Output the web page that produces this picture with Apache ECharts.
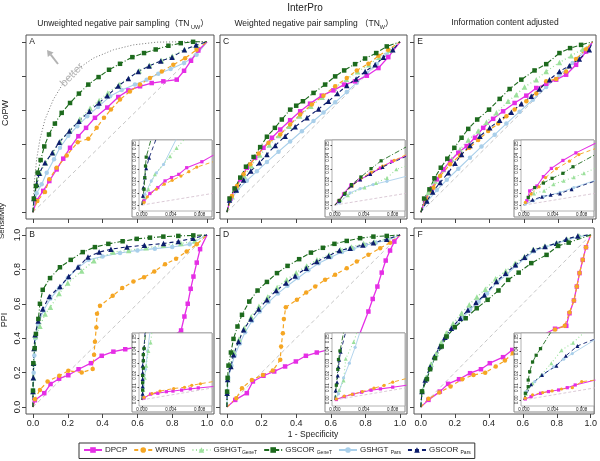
<!DOCTYPE html>
<html><head><meta charset="utf-8">
<script src="https://cdn.jsdelivr.net/npm/echarts@6/dist/echarts.min.js"></script>
<style>html,body{margin:0;padding:0;background:#fff}#c{width:600px;height:461px}</style>
</head><body><div id="c"></div>
<script>
// ---------- tick labels ----------
var MAIN_TICKS = [0, 0.2, 0.4, 0.6, 0.8, 1.0];
var INSET_X_TICKS = [0, 0.004, 0.008];
var INSET_Y_TICKS = [0, 0.01, 0.02, 0.03, 0.04, 0.05];
var DIAG = [[0, 0], [1, 1]];
var A_BETTER = [[0,0],[0.006,0.154],[0.021,0.31],[0.04,0.427],[0.069,0.544],[0.117,0.661],[0.174,0.758],[0.251,0.836],[0.347,0.904],[0.462,0.953],[0.577,0.982],[0.711,0.998],[0.845,1.0],[1,1]];

// ---------- Panel A (CoPW, unweighted) ----------
var A_DPCP = [[0.021,0.07],[0.059,0.125],[0.094,0.183],[0.136,0.251],[0.174,0.314],[0.213,0.378],[0.261,0.446],[0.305,0.495],[0.356,0.554],[0.427,0.614],[0.49,0.676],[0.548,0.715],[0.615,0.739],[0.682,0.758],[0.749,0.768],[0.826,0.778],[0.868,0.83],[0.908,0.889],[0.95,0.949]];
var A_WRUNS = [[0.025,0.066],[0.069,0.119],[0.094,0.193],[0.136,0.261],[0.194,0.333],[0.257,0.411],[0.318,0.431],[0.366,0.495],[0.408,0.554],[0.448,0.602],[0.5,0.661],[0.557,0.709],[0.615,0.749],[0.672,0.788],[0.74,0.826],[0.806,0.865],[0.874,0.904],[0.94,0.953]];
var A_GSHGT_GeneT = [[0.008,0.08],[0.025,0.16],[0.04,0.23],[0.072,0.29],[0.115,0.35],[0.155,0.415],[0.212,0.48],[0.268,0.545],[0.328,0.61],[0.38,0.655],[0.43,0.7],[0.495,0.75],[0.61,0.83],[0.67,0.862],[0.738,0.89],[0.8,0.915],[0.87,0.955],[0.94,0.975]];
var A_GSCOR_GeneT = [[0.005,0.08],[0.017,0.154],[0.027,0.232],[0.044,0.306],[0.065,0.386],[0.092,0.456],[0.126,0.52],[0.165,0.583],[0.213,0.641],[0.264,0.696],[0.318,0.749],[0.377,0.793],[0.437,0.836],[0.5,0.871],[0.571,0.91],[0.638,0.934],[0.705,0.955],[0.778,0.977],[0.849,0.992],[0.92,1.0]];
var A_GSHGT_Pars = [[0.021,0.111],[0.05,0.164],[0.079,0.232],[0.121,0.31],[0.155,0.378],[0.203,0.448],[0.255,0.505],[0.312,0.563],[0.374,0.618],[0.443,0.68],[0.51,0.717],[0.586,0.749],[0.653,0.778],[0.72,0.813],[0.791,0.84],[0.868,0.875],[0.94,0.924]];
var A_GSCOR_Pars = [[0.006,0.08],[0.021,0.164],[0.036,0.228],[0.069,0.29],[0.111,0.349],[0.151,0.411],[0.209,0.476],[0.264,0.534],[0.324,0.593],[0.379,0.641],[0.427,0.684],[0.49,0.741],[0.548,0.785],[0.605,0.826],[0.667,0.858],[0.734,0.887],[0.799,0.91],[0.87,0.953],[0.937,0.982]];
var A_in_DPCP = [[0,0],[0.0003,0.0036],[0.0011,0.0097],[0.0022,0.0147],[0.0032,0.0203],[0.0041,0.0231],[0.0051,0.0258],[0.0062,0.0314],[0.0083,0.0364],[0.0099,0.042]];
var A_in_WRUNS = [[0,0],[0.0003,0.0022],[0.00075,0.0069],[0.002,0.0133],[0.0031,0.0175],[0.0042,0.0208],[0.0054,0.0244],[0.0065,0.0281],[0.0076,0.0319],[0.0099,0.0365]];
var A_in_GSHGT_GeneT = [[0,0],[0.0004,0.006],[0.0009,0.0133],[0.0018,0.0258],[0.0039,0.0411],[0.0048,0.048],[0.006,0.056]];
var A_in_GSCOR_GeneT = [[0,0],[0.0003,0.0133],[0.0004,0.0231],[0.0005,0.0328],[0.0006,0.0403],[0.0013,0.056]];
var A_in_GSHGT_Pars = [[0,0],[0.0004,0.009],[0.0013,0.0203],[0.002,0.027],[0.003,0.0342],[0.0048,0.056]];
var A_in_GSCOR_Pars = [[0,0],[0.00014,0.0078],[0.0002,0.0147],[0.0004,0.0231],[0.0006,0.031],[0.001,0.0397],[0.002,0.056]];

// ---------- Panel C (CoPW, weighted) ----------
var C_DPCP = [[0.02,0.08],[0.048,0.139],[0.077,0.193],[0.115,0.261],[0.163,0.32],[0.211,0.378],[0.26,0.437],[0.308,0.485],[0.365,0.54],[0.423,0.592],[0.48,0.637],[0.548,0.684],[0.615,0.715],[0.677,0.749],[0.74,0.768],[0.808,0.801],[0.875,0.846],[0.932,0.91]];
var C_WRUNS = [[0.029,0.095],[0.058,0.154],[0.096,0.222],[0.135,0.281],[0.183,0.345],[0.24,0.407],[0.308,0.456],[0.365,0.515],[0.423,0.573],[0.49,0.632],[0.557,0.684],[0.625,0.739],[0.692,0.788],[0.75,0.832],[0.817,0.871],[0.875,0.918],[0.932,0.953]];
var C_GSHGT_GeneT = [[0.03,0.09],[0.06,0.148],[0.1,0.212],[0.14,0.272],[0.19,0.335],[0.245,0.395],[0.3,0.45],[0.36,0.505],[0.42,0.565],[0.485,0.622],[0.55,0.675],[0.62,0.728],[0.69,0.78],[0.755,0.825],[0.82,0.865],[0.88,0.91],[0.94,0.95]];
var C_GSCOR_GeneT = [[0.015,0.08],[0.044,0.139],[0.077,0.203],[0.11,0.267],[0.154,0.324],[0.192,0.382],[0.231,0.443],[0.277,0.495],[0.317,0.544],[0.365,0.602],[0.4,0.625],[0.439,0.651],[0.5,0.7],[0.567,0.749],[0.625,0.797],[0.677,0.832],[0.74,0.869],[0.798,0.902],[0.862,0.934],[0.923,0.973]];
var C_GSHGT_Pars = [[0.02,0.07],[0.058,0.125],[0.115,0.185],[0.173,0.24],[0.231,0.295],[0.298,0.355],[0.365,0.415],[0.433,0.475],[0.5,0.535],[0.558,0.585],[0.625,0.645],[0.692,0.705],[0.75,0.76],[0.808,0.815],[0.865,0.87],[0.923,0.925]];
var C_GSCOR_Pars = [[0.015,0.072],[0.054,0.13],[0.096,0.189],[0.138,0.242],[0.188,0.29],[0.231,0.339],[0.279,0.392],[0.336,0.446],[0.394,0.501],[0.462,0.554],[0.529,0.606],[0.586,0.651],[0.638,0.696],[0.692,0.743],[0.746,0.782],[0.798,0.826],[0.856,0.865],[0.904,0.91],[0.958,0.953]];
var C_in_DPCP = [[0,0],[0.0005,0.0033],[0.0012,0.0094],[0.0022,0.0167],[0.0035,0.0214],[0.0049,0.0261],[0.0063,0.0311],[0.0079,0.0367],[0.0099,0.0414]];
var C_in_WRUNS = [[0,0],[0.0006,0.0039],[0.0013,0.0094],[0.0024,0.016],[0.0036,0.0225],[0.005,0.0275],[0.0066,0.0328],[0.0082,0.0375],[0.0099,0.0425]];
var C_in_GSHGT_GeneT = [[0,0],[0.0008,0.004],[0.0018,0.0083],[0.0041,0.0148],[0.0057,0.0186],[0.0072,0.0228],[0.0085,0.03],[0.0099,0.033]];
var C_in_GSCOR_GeneT = [[0,0],[0.0006,0.0039],[0.0014,0.0098],[0.0023,0.0172],[0.0036,0.0236],[0.005,0.0306],[0.0064,0.0372],[0.0099,0.049]];
var C_in_GSHGT_Pars = [[0,0],[0.0006,0.0019],[0.0021,0.0103],[0.0035,0.0139],[0.0053,0.0172],[0.0072,0.02],[0.0099,0.0242]];
var C_in_GSCOR_Pars = [[0,0],[0.0006,0.0035],[0.0013,0.0094],[0.0023,0.0164],[0.0035,0.0214],[0.0049,0.0261],[0.0066,0.032],[0.0099,0.041]];

// ---------- Panel E (CoPW, IC adjusted) ----------
var E_DPCP = [[0.025,0.076],[0.064,0.139],[0.093,0.193],[0.131,0.251],[0.17,0.3],[0.218,0.349],[0.267,0.388],[0.315,0.437],[0.363,0.495],[0.421,0.548],[0.479,0.592],[0.546,0.641],[0.614,0.684],[0.672,0.729],[0.73,0.754],[0.788,0.778],[0.846,0.807],[0.904,0.865],[0.962,0.943]];
var E_WRUNS = [[0.03,0.075],[0.073,0.144],[0.112,0.212],[0.17,0.281],[0.228,0.333],[0.282,0.378],[0.334,0.423],[0.392,0.476],[0.45,0.52],[0.498,0.563],[0.546,0.602],[0.614,0.651],[0.672,0.696],[0.73,0.768],[0.788,0.782],[0.846,0.826],[0.904,0.899],[0.962,0.957]];
var E_GSHGT_GeneT = [[0.044,0.115],[0.083,0.183],[0.131,0.251],[0.18,0.31],[0.228,0.368],[0.276,0.423],[0.334,0.476],[0.382,0.528],[0.44,0.583],[0.508,0.651],[0.556,0.69],[0.604,0.735],[0.672,0.778],[0.73,0.826],[0.807,0.879],[0.875,0.918],[0.942,0.957]];
var E_GSCOR_GeneT = [[0.019,0.08],[0.05,0.134],[0.079,0.199],[0.116,0.261],[0.154,0.314],[0.195,0.378],[0.237,0.437],[0.276,0.489],[0.328,0.544],[0.397,0.602],[0.459,0.665],[0.517,0.723],[0.585,0.778],[0.662,0.832],[0.73,0.869],[0.807,0.934],[0.869,0.963],[0.933,0.982]];
var E_GSHGT_Pars = [[0.035,0.06],[0.093,0.13],[0.151,0.19],[0.218,0.255],[0.286,0.32],[0.353,0.385],[0.43,0.455],[0.498,0.52],[0.575,0.59],[0.652,0.66],[0.73,0.735],[0.807,0.805],[0.884,0.875],[0.962,0.95]];
var E_GSCOR_Pars = [[0.035,0.066],[0.069,0.119],[0.112,0.174],[0.16,0.232],[0.199,0.287],[0.237,0.339],[0.286,0.392],[0.344,0.446],[0.401,0.495],[0.459,0.54],[0.527,0.587],[0.585,0.637],[0.643,0.68],[0.691,0.723],[0.749,0.778],[0.807,0.826],[0.865,0.86],[0.923,0.899],[0.981,0.953]];
var E_in_DPCP = [[0,0],[0.0004,0.0036],[0.0008,0.0119],[0.0018,0.016],[0.0027,0.0239],[0.0038,0.0308],[0.0054,0.0375],[0.0072,0.0439],[0.0099,0.052]];
var E_in_WRUNS = [[0,0],[0.0002,0.0022],[0.001,0.0092],[0.0021,0.0153],[0.003,0.0231],[0.0045,0.0306],[0.0063,0.0369],[0.0076,0.0425],[0.0099,0.0475]];
var E_in_GSHGT_GeneT = [[0,0],[0.0006,0.005],[0.0014,0.0097],[0.0028,0.012],[0.0041,0.0175],[0.0055,0.0205],[0.0069,0.0233],[0.0083,0.0267],[0.0099,0.031]];
var E_in_GSCOR_GeneT = [[0,0],[0.0006,0.0064],[0.0015,0.0147],[0.0027,0.0185],[0.0039,0.0225],[0.0054,0.0267],[0.0068,0.0322],[0.0099,0.0425]];
var E_in_GSHGT_Pars = [[0,0],[0.0002,0.0008],[0.0013,0.0036],[0.0027,0.007],[0.005,0.0106],[0.0069,0.0147],[0.0099,0.0208]];
var E_in_GSCOR_Pars = [[0,0],[0.0012,0.0044],[0.0025,0.007],[0.0037,0.0086],[0.005,0.0097],[0.0066,0.0133],[0.0099,0.0203]];

// ---------- Panel B (PPI, unweighted) ----------
var B_DPCP = [[0.011,0.04],[0.065,0.081],[0.101,0.134],[0.15,0.165],[0.203,0.185],[0.262,0.22],[0.333,0.255],[0.395,0.298],[0.462,0.322],[0.53,0.336],[0.6,0.35],[0.7,0.375],[0.8,0.41],[0.851,0.445],[0.87,0.526],[0.889,0.6],[0.906,0.687],[0.922,0.758],[0.941,0.839],[0.96,0.917]];
var B_WRUNS = [[0.011,0.046],[0.04,0.1],[0.084,0.149],[0.151,0.182],[0.203,0.211],[0.28,0.201],[0.343,0.221],[0.351,0.304],[0.356,0.379],[0.364,0.462],[0.368,0.542],[0.385,0.588],[0.458,0.646],[0.513,0.691],[0.577,0.729],[0.638,0.754],[0.697,0.787],[0.759,0.83],[0.822,0.861],[0.883,0.903],[0.941,0.946]];
var B_GSHGT_GeneT = [[0.002,0.09],[0.004,0.17],[0.006,0.26],[0.009,0.34],[0.015,0.41],[0.04,0.47],[0.07,0.54],[0.1,0.58],[0.15,0.66],[0.2,0.72],[0.28,0.79],[0.35,0.85],[0.46,0.9],[0.55,0.91],[0.65,0.925],[0.75,0.94],[0.85,0.95],[0.93,0.965]];
var B_GSCOR_GeneT = [[0.0,0.096],[0.002,0.255],[0.01,0.342],[0.017,0.425],[0.031,0.512],[0.04,0.6],[0.056,0.681],[0.098,0.749],[0.155,0.812],[0.217,0.855],[0.286,0.9],[0.356,0.929],[0.433,0.948],[0.515,0.963],[0.596,0.977],[0.672,0.984],[0.749,0.99],[0.835,0.994],[0.921,0.997]];
var B_GSHGT_Pars = [[0.002,0.09],[0.004,0.2],[0.008,0.3],[0.014,0.4],[0.03,0.48],[0.06,0.56],[0.1,0.63],[0.15,0.69],[0.2,0.75],[0.26,0.81],[0.32,0.855],[0.4,0.875],[0.5,0.895],[0.6,0.91],[0.7,0.92],[0.8,0.93],[0.9,0.945]];
var B_GSCOR_Pars = [[0.0,0.09],[0.002,0.17],[0.003,0.255],[0.006,0.34],[0.012,0.42],[0.03,0.5],[0.056,0.57],[0.094,0.642],[0.155,0.7],[0.205,0.758],[0.259,0.813],[0.316,0.871],[0.38,0.9],[0.448,0.917],[0.54,0.93],[0.64,0.94],[0.75,0.95],[0.835,0.962],[0.92,0.98]];
var B_in_DPCP = [[0,0],[0.0003,0.0016],[0.0012,0.0047],[0.0022,0.0054],[0.0034,0.0067],[0.0043,0.0072],[0.0055,0.008],[0.0067,0.009],[0.0078,0.0098],[0.0099,0.011]];
var B_in_WRUNS = [[0,0],[0.0003,0.0021],[0.0014,0.0052],[0.0025,0.0072],[0.0044,0.0093],[0.0059,0.0103],[0.0069,0.0119],[0.0081,0.0132],[0.0099,0.015]];
var B_in_GSHGT_GeneT = [[0,0],[0.0002,0.008],[0.0004,0.018],[0.0006,0.028],[0.0009,0.04],[0.0012,0.047],[0.0015,0.06]];
var B_in_GSCOR_GeneT = [[0,0],[0.0001,0.008],[0.0001,0.014],[0.0001,0.02],[0.0002,0.026],[0.0002,0.032],[0.0002,0.037],[0.0003,0.042],[0.0006,0.06]];
var B_in_GSHGT_Pars = [[0,0],[0.0002,0.01],[0.0005,0.025],[0.0008,0.04],[0.0012,0.06]];
var B_in_GSCOR_Pars = [[0,0],[0.0001,0.005],[0.0001,0.011],[0.0001,0.017],[0.0001,0.022],[0.0001,0.028],[0.0002,0.033],[0.0002,0.038],[0.0003,0.043],[0.0005,0.06]];

// ---------- Panel D (PPI, weighted) ----------
var D_DPCP = [[0.048,0.042],[0.115,0.081],[0.15,0.149],[0.211,0.182],[0.273,0.207],[0.336,0.236],[0.398,0.265],[0.456,0.298],[0.519,0.317],[0.583,0.333],[0.65,0.36],[0.71,0.39],[0.765,0.42],[0.817,0.555],[0.842,0.628],[0.869,0.7],[0.894,0.781],[0.917,0.851],[0.942,0.909],[0.967,0.961]];
var D_WRUNS = [[0.054,0.052],[0.087,0.11],[0.144,0.158],[0.208,0.187],[0.265,0.212],[0.308,0.275],[0.313,0.352],[0.323,0.429],[0.329,0.511],[0.34,0.58],[0.404,0.623],[0.458,0.665],[0.51,0.7],[0.567,0.739],[0.625,0.768],[0.692,0.807],[0.75,0.845],[0.817,0.884],[0.885,0.923],[0.942,0.955]];
var D_GSHGT_GeneT = [[0.002,0.09],[0.006,0.17],[0.02,0.245],[0.04,0.32],[0.07,0.395],[0.1,0.46],[0.14,0.525],[0.185,0.585],[0.235,0.64],[0.29,0.695],[0.345,0.74],[0.4,0.78],[0.46,0.82],[0.52,0.855],[0.59,0.885],[0.655,0.915],[0.72,0.93],[0.79,0.95],[0.85,0.96],[0.925,0.978]];
var D_GSCOR_GeneT = [[0.001,0.09],[0.004,0.17],[0.009,0.241],[0.023,0.317],[0.038,0.396],[0.061,0.468],[0.087,0.536],[0.129,0.613],[0.177,0.677],[0.231,0.727],[0.289,0.778],[0.35,0.82],[0.417,0.859],[0.485,0.897],[0.554,0.925],[0.621,0.948],[0.692,0.965],[0.769,0.981],[0.846,0.99],[0.923,0.994]];
var D_GSHGT_Pars = [[0.002,0.08],[0.008,0.17],[0.026,0.24],[0.045,0.3],[0.075,0.37],[0.105,0.435],[0.145,0.5],[0.19,0.555],[0.24,0.61],[0.295,0.66],[0.35,0.705],[0.41,0.75],[0.47,0.795],[0.53,0.835],[0.6,0.87],[0.665,0.9],[0.73,0.92],[0.8,0.94],[0.86,0.955],[0.93,0.97]];
var D_GSCOR_Pars = [[0.001,0.08],[0.004,0.16],[0.023,0.236],[0.038,0.304],[0.067,0.381],[0.096,0.449],[0.138,0.511],[0.183,0.569],[0.231,0.623],[0.285,0.677],[0.342,0.72],[0.394,0.762],[0.458,0.807],[0.519,0.845],[0.587,0.878],[0.65,0.909],[0.712,0.923],[0.785,0.942],[0.846,0.955],[0.923,0.975]];
var D_in_DPCP = [[0,0],[0.0002,0.0003],[0.0013,0.0027],[0.0025,0.0046],[0.0037,0.0063],[0.005,0.0079],[0.0063,0.009],[0.008,0.0104],[0.0099,0.012]];
var D_in_WRUNS = [[0,0],[0.0002,0.0008],[0.0013,0.0031],[0.0024,0.0046],[0.0038,0.0068],[0.0054,0.0096],[0.0068,0.0118],[0.008,0.0145],[0.0099,0.0175]];
var D_in_GSHGT_GeneT = [[0,0],[0.0006,0.008],[0.0012,0.0158],[0.0015,0.0336],[0.0026,0.0473],[0.0032,0.058]];
var D_in_GSCOR_GeneT = [[0,0],[0.0002,0.012],[0.0004,0.025],[0.0005,0.033],[0.0007,0.04],[0.0013,0.058]];
var D_in_GSHGT_Pars = [[0,0],[0.0005,0.005],[0.0012,0.018],[0.002,0.03],[0.0028,0.043],[0.0035,0.056]];
var D_in_GSCOR_Pars = [[0,0],[0.0001,0.0076],[0.0003,0.0145],[0.0004,0.02],[0.0005,0.0268],[0.0006,0.0328],[0.0008,0.0393],[0.0016,0.058]];

// ---------- Panel F (PPI, IC adjusted) ----------
var F_DPCP = [[0.045,0.042],[0.112,0.09],[0.161,0.135],[0.225,0.162],[0.29,0.197],[0.354,0.22],[0.406,0.255],[0.484,0.29],[0.538,0.332],[0.62,0.37],[0.7,0.41],[0.79,0.455],[0.856,0.472],[0.875,0.545],[0.901,0.619],[0.918,0.7],[0.934,0.778],[0.953,0.855],[0.972,0.928]];
var F_WRUNS = [[0.045,0.048],[0.109,0.085],[0.175,0.12],[0.244,0.162],[0.31,0.187],[0.379,0.2],[0.441,0.236],[0.495,0.27],[0.542,0.313],[0.62,0.36],[0.7,0.4],[0.79,0.45],[0.847,0.472],[0.875,0.55],[0.901,0.619],[0.918,0.7],[0.934,0.778],[0.953,0.855],[0.972,0.928]];
var F_GSHGT_GeneT = [[0.01,0.1],[0.03,0.17],[0.06,0.25],[0.09,0.31],[0.12,0.375],[0.15,0.43],[0.19,0.485],[0.24,0.545],[0.285,0.595],[0.33,0.64],[0.38,0.685],[0.44,0.745],[0.5,0.79],[0.555,0.835],[0.61,0.875],[0.66,0.915],[0.73,0.935],[0.8,0.955],[0.86,0.975],[0.93,0.995]];
var F_GSCOR_GeneT = [[0.007,0.091],[0.036,0.162],[0.055,0.22],[0.084,0.284],[0.123,0.352],[0.152,0.41],[0.2,0.464],[0.264,0.516],[0.329,0.574],[0.393,0.623],[0.457,0.677],[0.514,0.739],[0.576,0.781],[0.65,0.836],[0.74,0.884],[0.808,0.936],[0.87,0.955]];
var F_GSHGT_Pars = [[0.007,0.09],[0.03,0.16],[0.06,0.235],[0.09,0.3],[0.12,0.36],[0.155,0.41],[0.195,0.46],[0.245,0.515],[0.29,0.565],[0.34,0.612],[0.39,0.66],[0.45,0.725],[0.505,0.77],[0.56,0.82],[0.615,0.865],[0.665,0.905],[0.735,0.93],[0.8,0.95],[0.86,0.97],[0.93,0.99]];
var F_GSCOR_Pars = [[0.007,0.091],[0.026,0.157],[0.055,0.235],[0.08,0.294],[0.112,0.352],[0.142,0.406],[0.18,0.458],[0.233,0.516],[0.277,0.564],[0.325,0.607],[0.374,0.651],[0.445,0.729],[0.499,0.777],[0.557,0.826],[0.611,0.87],[0.663,0.913],[0.731,0.932],[0.798,0.951],[0.856,0.975],[0.924,0.994]];
var F_in_DPCP = [[0,0],[0.0002,0.0008],[0.001,0.0027],[0.0023,0.0054],[0.0034,0.0068],[0.0048,0.0081],[0.006,0.01],[0.0071,0.0122],[0.0099,0.0162]];
var F_in_WRUNS = [[0,0],[0.0002,0.0014],[0.0012,0.0041],[0.0026,0.006],[0.0039,0.0073],[0.0052,0.0089],[0.0067,0.01],[0.008,0.0149],[0.0099,0.0162]];
var F_in_GSHGT_GeneT = [[0,0],[0.0003,0.005],[0.0012,0.0135],[0.0024,0.0203],[0.0038,0.03],[0.0052,0.0406],[0.0068,0.0468],[0.0085,0.056]];
var F_in_GSCOR_GeneT = [[0,0],[0.0002,0.0054],[0.0006,0.0108],[0.0006,0.0162],[0.0008,0.023],[0.0012,0.031],[0.0017,0.0365],[0.0023,0.0419],[0.0038,0.056]];
var F_in_GSHGT_Pars = [[0,0],[0.0003,0.0068],[0.0015,0.0149],[0.0026,0.0203],[0.0041,0.027],[0.0055,0.0333],[0.0067,0.0379],[0.0099,0.0495]];
var F_in_GSCOR_Pars = [[0,0],[0.001,0.0127],[0.0025,0.0203],[0.0045,0.0279],[0.0058,0.036],[0.0074,0.0441],[0.0099,0.05]];

// ---------- styling / layout ----------
var FONT = '"Liberation Sans", Arial, Helvetica, "Noto Sans CJK SC", sans-serif';
var LEGEND_ORDER = ['DPCP','WRUNS','GSHGT_GeneT','GSCOR_GeneT','GSHGT_Pars','GSCOR_Pars'];
var DRAW_ORDER = ['GSHGT_Pars','GSHGT_GeneT','DPCP','WRUNS','GSCOR_Pars','GSCOR_GeneT'];
var STYLE = {
  DPCP:        {color:'#e52ee5', type:'solid',   symbol:'rect',     size:4.5, width:1.3},
  WRUNS:       {color:'#f5a623', type:[4,3],     symbol:'circle',   size:4.5, width:1.2},
  GSHGT_GeneT: {color:'#9be09b', type:[1,2.5],   symbol:'triangle', size:5.5, width:1.3},
  GSCOR_GeneT: {color:'#1d6a1d', type:[5,2,1,2], symbol:'rect',     size:4.5, width:1.1},
  GSHGT_Pars:  {color:'#a9cfea', type:'solid',   symbol:'circle',   size:4.5, width:1.1},
  GSCOR_Pars:  {color:'#0c1c6c', type:[4,3],     symbol:'triangle', size:5.5, width:1.1}
};
var PANELS = [
  {id:'A', left:26,  top:35,  width:188, height:184, xmax:1.04, showX:false, showY:false},
  {id:'C', left:220, top:35,  width:187, height:184, xmax:1.04, showX:false, showY:false},
  {id:'E', left:414, top:35,  width:182, height:184, xmax:1.02, showX:false, showY:false},
  {id:'B', left:26,  top:228, width:188, height:186, xmax:1.04, showX:true,  showY:true},
  {id:'D', left:220, top:228, width:187, height:186, xmax:1.04, showX:true,  showY:false},
  {id:'F', left:414, top:228, width:182, height:186, xmax:1.02, showX:true,  showY:false}
];

var grid = [], xAxis = [], yAxis = [], series = [], graphic = [];

function pts(arr, addEnds) {
  var p = addEnds ? [[0,0]].concat(arr, [[1,1]]) : arr;
  return p.map(function (v, i) {
    return (i === 0 || i === p.length - 1) ? {value: v, symbol: 'none'} : v;
  });
}
function addMethod(m, gi, data, inset) {
  var s = STYLE[m];
  series.push({
    type:'line', name:m, xAxisIndex:gi, yAxisIndex:gi, data:data,
    symbol:s.symbol, symbolSize: inset ? s.size*0.72 : s.size, showSymbol:true, showAllSymbol:true,
    lineStyle:{color:s.color, width: inset ? s.width*0.8 : s.width, type:s.type},
    itemStyle:{color:s.color, borderWidth:0},
    z: inset ? 4 : 2, silent:true, clip:true, animation:false, emphasis:{disabled:true}
  });
}
function addRef(gi, data, color, type, width, z) {
  series.push({type:'line', name:'ref'+series.length, xAxisIndex:gi, yAxisIndex:gi, data:data,
    symbol:'none', lineStyle:{color:color, type:type, width:width}, z:z, silent:true, clip:true,
    animation:false, emphasis:{disabled:true}});
}
function axisCfg(gi, pos, min, max, ticks, showLab, fmt, fs, rot, z, tickLen, margin) {
  return {type:'value', gridIndex:gi, position:pos, min:min, max:max, z:z,
    axisLine:{show:false, onZero:false}, splitLine:{show:false},
    axisTick:{show:true, inside:false, length:tickLen, customValues:ticks, lineStyle:{color:'#444', width:1}},
    axisLabel:{show:showLab, customValues:ticks, formatter:function(v){return v.toFixed(fmt);},
      fontSize:fs, color:'#222', margin:margin, rotate:rot, fontFamily:FONT}};
}

PANELS.forEach(function (p) {
  var gi = grid.length;
  grid.push({left:p.left, top:p.top, width:p.width, height:p.height, show:true,
    borderColor:'#555', borderWidth:1, backgroundColor:'rgba(0,0,0,0)', z:0});
  xAxis.push(axisCfg(gi, 'bottom', -0.04, p.xmax, MAIN_TICKS, p.showX, 1, 9, 0, 1, 4, 5));
  yAxis.push(axisCfg(gi, 'left', -0.04, 1.04, MAIN_TICKS, p.showY, 1, 9, 90, 1, 4, 3.5));
  addRef(gi, DIAG, '#c6c6c6', [4,3], 1, 1);
  if (p.id === 'A') addRef(gi, A_BETTER, '#777', [1,2], 1, 1);
  DRAW_ORDER.forEach(function (m) { addMethod(m, gi, pts(window[p.id + '_' + m], true), false); });

  // inset
  var R = p.left + p.width, Bt = p.top + p.height;
  var ox1 = R - 82, ox2 = R - 2, oy1 = p.top + 105, oy2 = Bt - 2;
  graphic.push({type:'rect', shape:{x:ox1, y:oy1, width:ox2-ox1, height:oy2-oy1},
    style:{fill:'#fff', stroke:'#8a8a8a', lineWidth:1}, z:2.9, silent:true});
  var ii = grid.length;
  grid.push({left:ox1+7, top:oy1, width:ox2-ox1-7, height:oy2-oy1-6, show:true,
    borderColor:'#a0a0a0', borderWidth:0.8, backgroundColor:'#fff', z:3});
  xAxis.push(axisCfg(ii, 'bottom', -0.0004, 0.0097, INSET_X_TICKS, true, 3, 4.5, 0, 5, 1.5, 2));
  yAxis.push(axisCfg(ii, 'left', -0.005, 0.0547, INSET_Y_TICKS, true, 2, 4.5, 90, 5, 1.5, 2));
  addRef(ii, DIAG, '#d2bccb', [3,2], 0.8, 3.5);
  DRAW_ORDER.forEach(function (m) { addMethod(m, ii, pts(window[p.id + '_in_' + m], false), true); });
});

function txt(x, y, text, size, opts) {
  opts = opts || {};
  graphic.push({type:'text', x:x, y:y, rotation:opts.rot || 0, z:10, silent:true,
    style:{text:text, fontSize:size, fontFamily:FONT, fill:opts.fill || '#222',
      align:'center', verticalAlign:'middle', textAlign:'center', textVerticalAlign:'middle',
      rich:opts.rich}});
}
var SUBRICH = {m:{fontSize:8.5, fontFamily:FONT, fill:'#222', lineHeight:12},
               s:{fontSize:5.5, fontFamily:FONT, fill:'#222', lineHeight:5, verticalAlign:'bottom'}};
txt(305, 8, 'InterPro', 10);
txt(123, 24, '{m|Unweighted negative pair sampling（TN}{s| UW}{m|）}', 8.5, {rich:SUBRICH});
txt(314, 24, '{m|Weighted negative pair sampling （TN}{s|W}{m|）}', 8.5, {rich:SUBRICH});
txt(505, 23, 'Information content adjusted', 8.5);
txt(32, 42, 'A', 8.5); txt(226, 42, 'C', 8.5); txt(420, 42, 'E', 8.5);
txt(32, 235, 'B', 8.5); txt(226, 235, 'D', 8.5); txt(420, 235, 'F', 8.5);
txt(6, 113, 'CoPW', 9, {rot:Math.PI/2});
txt(5, 320, 'PPI', 9, {rot:Math.PI/2});
txt(2, 221, 'Sensitivity', 8, {rot:Math.PI/2});
txt(313, 435, '1 - Specificity', 8.5);
txt(72, 75, 'better', 11, {rot:46*Math.PI/180, fill:'#b3b3b3'});
graphic.push({type:'line', shape:{x1:58, y1:64, x2:50.7, y2:54.7}, style:{stroke:'#b3b3b3', lineWidth:2}, z:10, silent:true});
graphic.push({type:'polygon', shape:{points:[[47,50],[53.6,52.4],[47.8,57]]}, style:{fill:'#b3b3b3'}, z:10, silent:true});

var LEGEND_LABEL = {
  DPCP:'{m|DPCP}', WRUNS:'{m|WRUNS}', GSHGT_GeneT:'{m|GSHGT}{s|GeneT}',
  GSCOR_GeneT:'{m|GSCOR }{s|GeneT}', GSHGT_Pars:'{m|GSHGT }{s|Pars}', GSCOR_Pars:'{m|GSCOR }{s|Pars}'
};

var chart = echarts.init(document.getElementById('c'), null, {renderer:'canvas'});
chart.setOption({
  animation:false,
  backgroundColor:'#fff',
  grid:grid, xAxis:xAxis, yAxis:yAxis, series:series, graphic:graphic,
  legend:{data:LEGEND_ORDER, left:79, top:443, orient:'horizontal', itemWidth:18, itemHeight:7, itemGap:6,
    padding:[3,4], borderColor:'#333', borderWidth:1, selectedMode:false,
    formatter:function(n){return LEGEND_LABEL[n];},
    textStyle:{fontSize:8, fontFamily:FONT, color:'#222', padding:[0,0,0,-2],
      rich:{m:{fontSize:8, fontFamily:FONT, color:'#222', lineHeight:11},
            s:{fontSize:5, fontFamily:FONT, color:'#222', lineHeight:5, verticalAlign:'bottom'}}}}
});
</script></body></html>
